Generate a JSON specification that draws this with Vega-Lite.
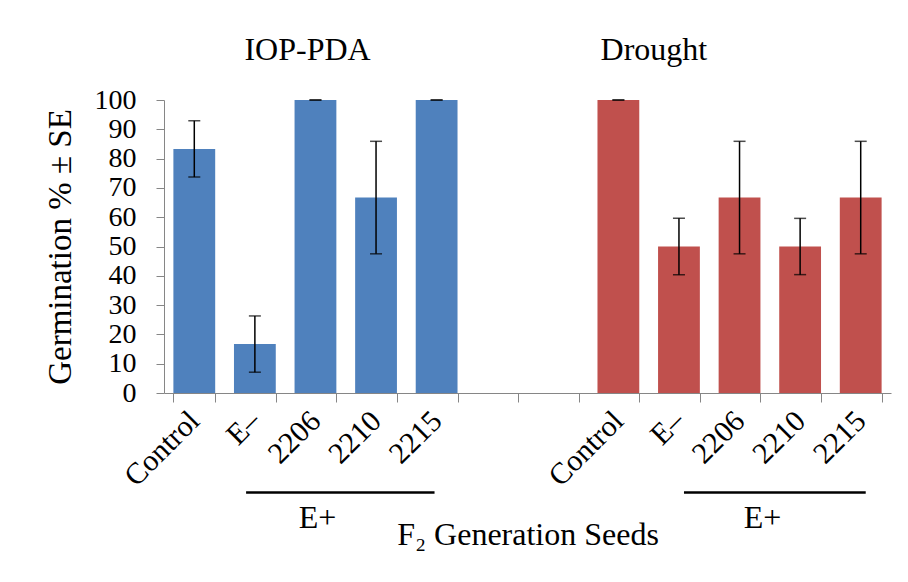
{
  "$schema": "https://vega.github.io/schema/vega-lite/v6.json",
  "autosize": "none",
  "width": 727,
  "height": 293,
  "padding": {"left": 164, "top": 100, "right": 17, "bottom": 189},
  "background": "white",
  "config": {
    "view": {"stroke": null},
    "font": "Liberation Serif",
    "text": {"font": "Liberation Serif", "color": "black"},
    "axisY": {
      "titleFont": "Liberation Serif",
      "titleFontSize": 33,
      "titleFontWeight": "normal",
      "titleColor": "black",
      "titlePadding": 17,
      "labelOverlap": false,
      "labelFont": "Liberation Serif",
      "labelFontSize": 28,
      "labelColor": "black",
      "labelPadding": 20,
      "tickSize": 8,
      "tickColor": "#868686",
      "domainColor": "#868686",
      "grid": false
    },
    "axisX": {
      "titleFont": "Liberation Serif",
      "titleFontSize": 32,
      "titleFontWeight": "normal",
      "titleColor": "black",
      "titlePadding": 28,
      "labelAngle": -45,
      "labelAlign": "right",
      "labelBaseline": "middle",
      "labelFont": "Liberation Serif",
      "labelFontSize": 30,
      "labelColor": "black",
      "labelPadding": 14,
      "labelOverlap": false,
      "labelBound": false,
      "tickBand": "extent",
      "tickSize": 9,
      "tickColor": "#868686",
      "domainColor": "#868686",
      "grid": false
    }
  },
  "datasets": {
    "main": [
      {"key": "IOP|Control", "group": "IOP-PDA", "value": 83.3, "lo": 73.7, "hi": 92.9},
      {"key": "IOP|E–", "group": "IOP-PDA", "value": 16.7, "lo": 7.1, "hi": 26.3},
      {"key": "IOP|2206", "group": "IOP-PDA", "value": 100, "lo": 100, "hi": 100},
      {"key": "IOP|2210", "group": "IOP-PDA", "value": 66.7, "lo": 47.5, "hi": 85.9},
      {"key": "IOP|2215", "group": "IOP-PDA", "value": 100, "lo": 100, "hi": 100},
      {"key": "DR|Control", "group": "Drought", "value": 100, "lo": 100, "hi": 100},
      {"key": "DR|E–", "group": "Drought", "value": 50, "lo": 40.4, "hi": 59.6},
      {"key": "DR|2206", "group": "Drought", "value": 66.7, "lo": 47.5, "hi": 85.9},
      {"key": "DR|2210", "group": "Drought", "value": 50, "lo": 40.4, "hi": 59.6},
      {"key": "DR|2215", "group": "Drought", "value": 66.7, "lo": 47.5, "hi": 85.9}
    ],
    "ioptitle": [{"key": "IOP|2206", "y": 117, "text": "IOP-PDA"}],
    "drtitle": [{"key": "DR|E–", "y": 117, "text": "Drought"}],
    "iopbrace": [
      {"start": "IOP|E–", "end": "IOP|2215", "y": -34, "ty": -42.5, "mid": "IOP|2206", "text": "E+"}
    ],
    "drbrace": [
      {"start": "DR|E–", "end": "DR|2215", "y": -34, "ty": -42.5, "mid": "DR|2206", "text": "E+"}
    ]
  },
  "layer": [
    {
      "data": {"name": "main"},
      "mark": {"type": "bar", "clip": false},
      "encoding": {
        "x": {
          "field": "key",
          "type": "nominal",
          "sort": null,
          "scale": {
            "domain": ["IOP|Control", "IOP|E–", "IOP|2206", "IOP|2210", "IOP|2215", "gap1|", "gap2|", "DR|Control", "DR|E–", "DR|2206", "DR|2210", "DR|2215"],
            "paddingInner": 0.31,
            "paddingOuter": 0.155
          },
          "axis": {"title": "F₂ Generation Seeds", "labelExpr": "split(datum.value, '|')[1]"}
        },
        "y": {
          "field": "value",
          "type": "quantitative",
          "scale": {"domain": [0, 100], "nice": false},
          "axis": {"title": "Germination % ± SE", "values": [0, 10, 20, 30, 40, 50, 60, 70, 80, 90, 100], "labelOverlap": false}
        },
        "color": {
          "field": "group",
          "type": "nominal",
          "scale": {"domain": ["IOP-PDA", "Drought"], "range": ["#4F81BD", "#C0504D"]},
          "legend": null
        }
      }
    },
    {
      "data": {"name": "main"},
      "mark": {"type": "rule", "color": "black", "strokeWidth": 1.5},
      "encoding": {
        "x": {"field": "key", "type": "nominal", "axis": {"title": "F₂ Generation Seeds", "labelExpr": "split(datum.value, '|')[1]"}},
        "y": {"field": "lo", "type": "quantitative", "axis": {"title": "Germination % ± SE", "values": [0, 10, 20, 30, 40, 50, 60, 70, 80, 90, 100], "labelOverlap": false}},
        "y2": {"field": "hi"}
      }
    },
    {
      "data": {"name": "main"},
      "mark": {"type": "tick", "color": "black", "size": 12, "thickness": 1.5, "orient": "horizontal"},
      "encoding": {
        "x": {"field": "key", "type": "nominal", "axis": {"title": "F₂ Generation Seeds", "labelExpr": "split(datum.value, '|')[1]"}},
        "y": {"field": "lo", "type": "quantitative", "axis": {"title": "Germination % ± SE", "values": [0, 10, 20, 30, 40, 50, 60, 70, 80, 90, 100], "labelOverlap": false}}
      }
    },
    {
      "data": {"name": "main"},
      "mark": {"type": "tick", "color": "black", "size": 12, "thickness": 1.5, "orient": "horizontal"},
      "encoding": {
        "x": {"field": "key", "type": "nominal", "axis": {"title": "F₂ Generation Seeds", "labelExpr": "split(datum.value, '|')[1]"}},
        "y": {"field": "hi", "type": "quantitative", "axis": {"title": "Germination % ± SE", "values": [0, 10, 20, 30, 40, 50, 60, 70, 80, 90, 100], "labelOverlap": false}}
      }
    },
    {
      "data": {"name": "ioptitle"},
      "mark": {"type": "text", "fontSize": 32, "baseline": "middle", "align": "center", "clip": false},
      "encoding": {
        "x": {"field": "key", "type": "nominal", "bandPosition": 0.31, "axis": {"title": "F₂ Generation Seeds", "labelExpr": "split(datum.value, '|')[1]"}},
        "y": {"field": "y", "type": "quantitative", "axis": {"title": "Germination % ± SE", "values": [0, 10, 20, 30, 40, 50, 60, 70, 80, 90, 100], "labelOverlap": false}},
        "text": {"field": "text"}
      }
    },
    {
      "data": {"name": "drtitle"},
      "mark": {"type": "text", "fontSize": 32, "baseline": "middle", "align": "center", "clip": false},
      "encoding": {
        "x": {"field": "key", "type": "nominal", "bandPosition": -0.1, "axis": {"title": "F₂ Generation Seeds", "labelExpr": "split(datum.value, '|')[1]"}},
        "y": {"field": "y", "type": "quantitative", "axis": {"title": "Germination % ± SE", "values": [0, 10, 20, 30, 40, 50, 60, 70, 80, 90, 100], "labelOverlap": false}},
        "text": {"field": "text"}
      }
    },
    {
      "data": {"name": "iopbrace"},
      "mark": {"type": "rule", "color": "black", "strokeWidth": 2.5, "clip": false},
      "encoding": {
        "x": {"field": "start", "type": "nominal", "bandPosition": 0.29, "axis": {"title": "F₂ Generation Seeds", "labelExpr": "split(datum.value, '|')[1]"}},
        "x2": {"field": "end", "bandPosition": 0.45},
        "y": {"field": "y", "type": "quantitative", "axis": {"title": "Germination % ± SE", "values": [0, 10, 20, 30, 40, 50, 60, 70, 80, 90, 100], "labelOverlap": false}}
      }
    },
    {
      "data": {"name": "iopbrace"},
      "mark": {"type": "text", "fontSize": 32, "baseline": "middle", "align": "center", "clip": false},
      "encoding": {
        "x": {"field": "mid", "type": "nominal", "bandPosition": 0.55, "axis": {"title": "F₂ Generation Seeds", "labelExpr": "split(datum.value, '|')[1]"}},
        "y": {"field": "ty", "type": "quantitative", "axis": {"title": "Germination % ± SE", "values": [0, 10, 20, 30, 40, 50, 60, 70, 80, 90, 100], "labelOverlap": false}},
        "text": {"field": "text"}
      }
    },
    {
      "data": {"name": "drbrace"},
      "mark": {"type": "rule", "color": "black", "strokeWidth": 2.5, "clip": false},
      "encoding": {
        "x": {"field": "start", "type": "nominal", "bandPosition": 0.62, "axis": {"title": "F₂ Generation Seeds", "labelExpr": "split(datum.value, '|')[1]"}},
        "x2": {"field": "end", "bandPosition": 0.62},
        "y": {"field": "y", "type": "quantitative", "axis": {"title": "Germination % ± SE", "values": [0, 10, 20, 30, 40, 50, 60, 70, 80, 90, 100], "labelOverlap": false}}
      }
    },
    {
      "data": {"name": "drbrace"},
      "mark": {"type": "text", "fontSize": 32, "baseline": "middle", "align": "center", "clip": false},
      "encoding": {
        "x": {"field": "mid", "type": "nominal", "bandPosition": 1.05, "axis": {"title": "F₂ Generation Seeds", "labelExpr": "split(datum.value, '|')[1]"}},
        "y": {"field": "ty", "type": "quantitative", "axis": {"title": "Germination % ± SE", "values": [0, 10, 20, 30, 40, 50, 60, 70, 80, 90, 100], "labelOverlap": false}},
        "text": {"field": "text"}
      }
    }
  ]
}
